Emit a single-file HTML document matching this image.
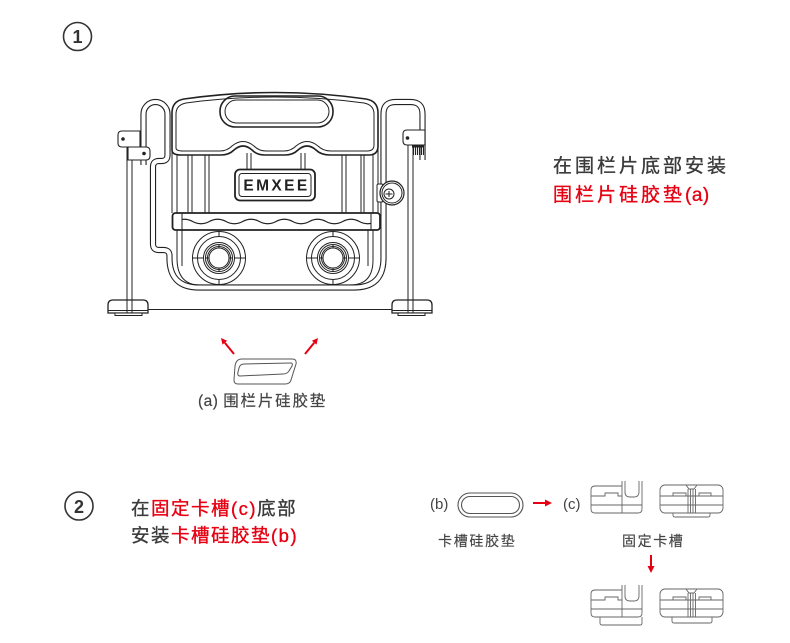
<!DOCTYPE html>
<html><head><meta charset="utf-8">
<style>
html,body{margin:0;padding:0;background:#fff;}
svg{display:block;}
text{font-family:"Liberation Sans","Noto Sans CJK SC",sans-serif;}
</style></head><body>
<svg width="790" height="643" viewBox="0 0 790 643" xmlns="http://www.w3.org/2000/svg">
<rect width="790" height="643" fill="#fff"/>

<!-- step numbers -->
<circle cx="77.5" cy="36.5" r="14" fill="none" stroke="#333" stroke-width="1.6"/>
<text x="77.5" y="43" font-size="18" font-weight="bold" text-anchor="middle" fill="#333">1</text>
<circle cx="79" cy="506" r="14" fill="none" stroke="#333" stroke-width="1.6"/>
<text x="79" y="513" font-size="18" font-weight="bold" text-anchor="middle" fill="#333">2</text>

<!-- ===== main illustration ===== -->
<g fill="none" stroke="#222" stroke-width="1">
  <!-- frame tube -->
  <path d="M143.5,165 L143.5,114 A12,12 0 0 1 167.5,114 L167.5,155 Q167.5,161 161.5,161 L159,161 Q153,161 153,167 L153,244 Q153,250 159,250 L163.5,250 Q169.5,250 169.5,256 L169.5,258 Q169.5,287.5 199,287.5 L354,287.5 Q383.5,287.5 383.5,258 L383.5,114 Q383.5,102 395.5,102 L410.5,102 Q422.5,102 422.5,114 L422.5,160" stroke="#222" stroke-width="6.2"/>
  <path d="M143.5,165 L143.5,114 A12,12 0 0 1 167.5,114 L167.5,155 Q167.5,161 161.5,161 L159,161 Q153,161 153,167 L153,244 Q153,250 159,250 L163.5,250 Q169.5,250 169.5,256 L169.5,258 Q169.5,287.5 199,287.5 L354,287.5 Q383.5,287.5 383.5,258 L383.5,114 Q383.5,102 395.5,102 L410.5,102 Q422.5,102 422.5,114 L422.5,160" stroke="#fff" stroke-width="4"/>

  <!-- poles -->
  <rect x="127" y="147" width="5" height="155" fill="#fff"/>
  <rect x="408" y="145" width="5" height="157" fill="#fff"/>

  <!-- frame verticals between panel and tray -->
  <path d="M172,145 V213 M177,145 V213 M188,150 V213 M192,150 V213 M205,150 V213 M209,150 V213 M342,150 V213 M346,150 V213 M361,150 V213 M364,150 V213 M373,145 V213 M378,145 V213"/>

  <!-- top panel -->
  <path fill="#fff" stroke-width="1.6" d="M172,150 L172,113 Q172,101 184,99 Q275,86 366,99 Q378,101 378,113 L378,146 Q378,155 369,155 L330,155 Q321,155 316,150 Q307,142 298,150 Q293,155 285,155 L265,155 Q257,155 252,150 Q243,142 234,150 Q229,155 221,155 L181,155 Q172,155 172,150 Z"/>
  <path d="M176,148 L176,114 Q176,105 186,103 Q275,91 364,103 Q374,105 374,114 L374,145 Q374,151 367,151 L331,151 Q323,151 318,146 Q307,137 296,146 Q291,151 284,151 L266,151 Q259,151 254,146 Q243,137 232,146 Q227,151 220,151 L183,151 Q176,151 176,148 Z"/>
  <!-- handle hole -->
  <rect x="220" y="96" width="113" height="31" rx="15" stroke-width="1.6"/>
  <rect x="225" y="100" width="104" height="23" rx="11.5"/>

  <!-- sign posts -->
  <path d="M247,153 V170 M251,153 V170 M301,153 V170 M305,153 V170"/>
  <!-- sign -->
  <rect x="235" y="169.5" width="80" height="31" rx="5" fill="#fff" stroke-width="1.8"/>
  <rect x="239" y="173.5" width="72" height="23" rx="3"/>

  <!-- tray -->
  <rect x="172.5" y="213" width="207.5" height="17" rx="3" fill="#fff" stroke-width="1.8"/>
  <path d="M182,213 V230 M371,213 V230"/>
  <clipPath id="trayclip"><rect x="182" y="214" width="189" height="15"/></clipPath>
  <path d="M176,221.5 q8.33,-4.5 16.67,0 t16.67,0 t16.67,0 t16.67,0 t16.67,0 t16.67,0 t16.67,0 t16.67,0 t16.67,0 t16.67,0 t16.67,0 t16.67,0 t16.67,0 t16.67,0 t16.67,0 t16.67,0 t16.67,0 t16.67,0 t16.67,0 t16.67,0 t16.67,0 t16.67,0 t16.67,0 t16.67,0" stroke-width="1.2" clip-path="url(#trayclip)"/>

  <!-- lower container -->
  <path d="M177,230 L177,258 Q177,285 200,285 L350,285 Q373,285 373,260 L373,230"/>
  <path d="M182,230 V266 M368,230 V266"/>

  <!-- wheels -->
  <g>
    <circle cx="219" cy="258" r="26.5" fill="#fff"/>
    <circle cx="219" cy="258" r="21.5"/>
    <circle cx="219" cy="258" r="15.5"/>
    <circle cx="219" cy="258" r="13.5"/>
    <circle cx="219" cy="258" r="11.5"/>
    <circle cx="219" cy="258" r="10"/>
    <path d="M219,231.5 V236.5 M219,279.5 V284.5 M192.5,258 H203.5 M234.5,258 H245.5 M219,244.5 V248 M219,268 V271.5 M205.5,258 H209 M229,258 H232.5"/>
  </g>
  <g>
    <circle cx="333" cy="258" r="26.5" fill="#fff"/>
    <circle cx="333" cy="258" r="21.5"/>
    <circle cx="333" cy="258" r="15.5"/>
    <circle cx="333" cy="258" r="13.5"/>
    <circle cx="333" cy="258" r="11.5"/>
    <circle cx="333" cy="258" r="10"/>
    <path d="M333,231.5 V236.5 M333,279.5 V284.5 M306.5,258 H317.5 M348.5,258 H359.5 M333,244.5 V248 M333,268 V271.5 M319.5,258 H323 M343,258 H346.5"/>
  </g>

  <!-- latch -->
  <rect x="377" y="184" width="6" height="18" rx="1.5" fill="#fff"/>
  <circle cx="392" cy="193" r="12" fill="#fff" stroke-width="1.2"/>
  <circle cx="392" cy="193" r="10"/>
  <circle cx="389" cy="194" r="5"/>
  <path d="M385.5,194 H392.5 M389,191 V197"/>

  <!-- left bracket -->
  <path d="M140,131 L122,131 Q118,131 118,135 L118,143 Q118,147 122,147 L140,147 Z" fill="#fff" stroke-width="1.1"/>
  <path d="M128,147 L146,147 Q150,147 150,151 L150,156 Q150,160 146,160 L128,160 Z" fill="#fff" stroke-width="1.1"/>
  <circle cx="123" cy="139" r="1.8" fill="#222" stroke="none"/>
  <circle cx="144" cy="153.5" r="1.8" fill="#222" stroke="none"/>

  <!-- right bracket -->
  <path d="M425,130 L407,130 Q403,130 403,134 L403,141 Q403,145 407,145 L425,145 Z" fill="#fff" stroke-width="1.1"/>
  <circle cx="407.5" cy="138" r="1.8" fill="#222" stroke="none"/>
  <rect x="412" y="145" width="12" height="2.5" fill="#222" stroke="none"/>
  <path d="M413.5,147 V155 M415.5,147 V155 M417.5,147 V155 M419.5,147 V155 M421.5,147 V155 M423.5,147 V155" stroke-width="1.1"/>

  <!-- bottom rail -->
  <path d="M148,309.5 H392"/>

  <!-- feet -->
  <path d="M108,313 L108,305 Q108,300 113,300 L143,300 Q148,300 148,305 L148,313 Z" fill="#fff" stroke-width="1.3"/>
  <path d="M127,300 V313 M132,300 V313 M108,310.5 H148"/>
  <rect x="115" y="313" width="27" height="2.5" fill="#fff"/>
  <path d="M392,313 L392,305 Q392,300 397,300 L427,300 Q432,300 432,305 L432,313 Z" fill="#fff" stroke-width="1.3"/>
  <path d="M408,300 V313 M413,300 V313 M392,310.5 H432"/>
  <rect x="398" y="313" width="27" height="2.5" fill="#fff"/>
</g>
<text x="276.5" y="190.5" font-size="15.5" font-weight="bold" letter-spacing="2.4" text-anchor="middle" fill="#222">EMXEE</text>

<!-- pad (a) -->
<g fill="none" stroke="#555" stroke-width="1">
  <path d="M242,359 L292,359 Q297,359 296,364 L291,380 Q290,384 285,384 L238,384 Q234,384 234,380 L235,366 Q236,359 242,359 Z"/>
  <path d="M244,364 L291,363 Q293,363 292,366 L289,371 Q287,374 283,374 L240,376 Q237,376 238,372 L239,368 Q240,364 244,364 Z"/>
</g>
<!-- red arrows near pad -->
<g stroke="#e60012" stroke-width="2" fill="#e60012">
  <line x1="234" y1="354" x2="224.8" y2="342.7"/>
  <polygon points="221,338 227.1,340.8 222.5,344.6" stroke="none"/>
  <line x1="305" y1="354" x2="314.2" y2="342.7"/>
  <polygon points="318,338 316.5,344.6 311.9,340.8" stroke="none"/>
</g>
<text x="198" y="406" font-size="15.5" fill="#444" stroke="#444" stroke-width="0.2"><tspan letter-spacing="0.5">(a) </tspan><tspan letter-spacing="1.8">围栏片硅胶垫</tspan></text>

<!-- step 1 text -->
<text x="553" y="172" font-size="19" letter-spacing="3" fill="#3a3a3a" stroke="#3a3a3a" stroke-width="0.35">在围栏片底部安装</text>
<text x="553" y="201" font-size="19" fill="#e60012" stroke="#e60012" stroke-width="0.35"><tspan letter-spacing="3">围栏片硅胶垫</tspan><tspan letter-spacing="0.5">(a)</tspan></text>

<!-- step 2 text -->
<text x="131" y="515" font-size="18.5" letter-spacing="1.5" stroke-width="0.35"><tspan fill="#3a3a3a" stroke="#3a3a3a">在</tspan><tspan fill="#e60012" stroke="#e60012">固定卡槽(c)</tspan><tspan fill="#3a3a3a" stroke="#3a3a3a">底部</tspan></text>
<text x="131" y="542" font-size="18.5" letter-spacing="1.5" stroke-width="0.35"><tspan fill="#3a3a3a" stroke="#3a3a3a">安装</tspan><tspan fill="#e60012" stroke="#e60012">卡槽硅胶垫(b)</tspan></text>

<!-- step 2 right side -->
<text x="430" y="509" font-size="15" fill="#444">(b)</text>
<text x="563" y="509" font-size="15" fill="#444">(c)</text>
<g fill="none" stroke="#555" stroke-width="1.1">
  <rect x="458" y="493" width="65" height="24" rx="12"/>
  <rect x="461.5" y="496.5" width="58" height="17" rx="8.5"/>
</g>
<g stroke="#e60012" stroke-width="2" fill="#e60012">
  <line x1="533" y1="503" x2="546" y2="503"/>
  <polygon points="545,499.5 552,503 545,506.5" stroke="none"/>
  <line x1="651" y1="555" x2="651" y2="567"/>
  <polygon points="647.5,566 651,573 654.5,566" stroke="none"/>
</g>
<text x="438" y="546" font-size="14" letter-spacing="1.7" fill="#444" stroke="#444" stroke-width="0.15">卡槽硅胶垫</text>
<text x="622" y="546" font-size="14" letter-spacing="1.6" fill="#444" stroke="#444" stroke-width="0.15">固定卡槽</text>

<defs>
  <g id="c1" fill="none" stroke="#666" stroke-width="0.9">
    <path d="M622,486 L595,486 Q591,486 591,490 L591,509 Q591,513 595,513 L638,513 Q642,513 642,509 L642,481"/>
    <path d="M622,481 L622,513"/>
    <path d="M625,481 L625,492 Q625,497 630,497 L634,497 Q639,497 639,492 L639,481"/>
    <path d="M591,496 L605,496 L605,493 L618,493 L618,496 L622,496"/>
    <path d="M591,505 L642,505"/>
  </g>
  <g id="c2" fill="none" stroke="#666" stroke-width="0.9">
    <rect x="660" y="485" width="63" height="28" rx="5"/>
    <path d="M660,496 L723,496 M660,505 L723,505"/>
    <path d="M673,496 V493 H686 V496 M699,496 V493 H711 V496"/>
    <path d="M686,485 L689,489 L694,489 L697,485 M688,489 V513 M690.5,489 V513 M693,489 V513 M695.5,489 V513"/>
  </g>
</defs>
<use href="#c1"/>
<use href="#c2"/>
<path d="M673,513 L673,515 Q673,517 675,517 L708,517 Q710,517 710,515 L710,513" fill="none" stroke="#666" stroke-width="0.9"/>
<g transform="translate(0,104)"><use href="#c1"/></g>
<path d="M600,617 L600,623 Q600,625 602,625 L640,625 Q642,625 642,623 L642,617" fill="none" stroke="#666" stroke-width="0.9"/>
<g transform="translate(0,104)"><use href="#c2"/></g>
<path d="M672,617 L672,621 Q672,623 674,623 L710,623 Q712,623 712,621 L712,617" fill="none" stroke="#666" stroke-width="0.9"/>
</svg>
</body></html>
